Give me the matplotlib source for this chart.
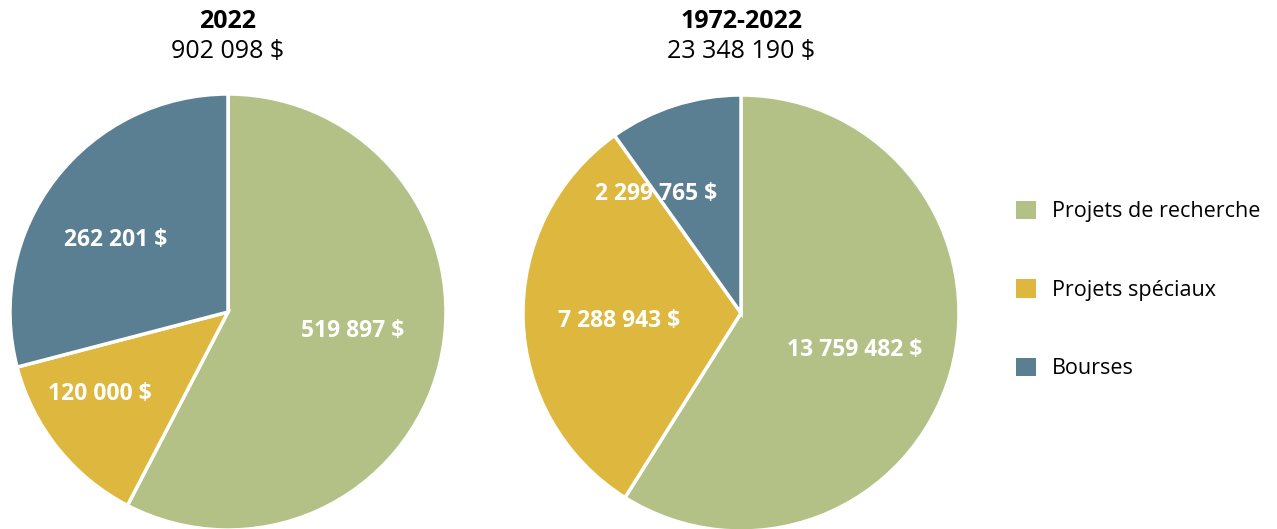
import numpy as np
import matplotlib.pyplot as plt
from matplotlib.patches import Patch

# === DATA ===
CATEGORIES = ["Projets de recherche", "Projets spéciaux", "Bourses"]
COLORS = ["#B3C187", "#DEB73E", "#5A7E92"]

TITLE_1 = "2022"
TOTAL_1 = "902 098 $"
VALUES_1 = [519897, 120000, 262201]

TITLE_2 = "1972-2022"
TOTAL_2 = "23 348 190 $"
VALUES_2 = [13759482, 7288943, 2299765]

FONT = "Open Sans"


def fmt(v):
    return f"{v:,}".replace(",", " ") + " $"


def draw_pie(ax, values, radii, nudges):
    wedges, _ = ax.pie(values, colors=COLORS, startangle=90, counterclock=False,
                       wedgeprops=dict(edgecolor="white", linewidth=2.5))
    for w, v, r, d in zip(wedges, values, radii, nudges):
        ang = np.deg2rad((w.theta1 + w.theta2) / 2 + d)
        ax.text(r * np.cos(ang), r * np.sin(ang), fmt(v), ha="center", va="center",
                color="white", fontsize=16.5, fontweight="bold", family=FONT)
    ax.set_xlim(-1, 1)
    ax.set_ylim(-1, 1)
    ax.set_aspect("auto")


fig = plt.figure(figsize=(12.77, 5.29), dpi=100)

ax1 = fig.add_axes([10 / 1277, -1 / 529, 436 / 1277, 436 / 529])
draw_pie(ax1, VALUES_1, [0.58, 0.70, 0.61], [5, -6, 5])

ax2 = fig.add_axes([523 / 1277, -2 / 529, 436 / 1277, 436 / 529])
draw_pie(ax2, VALUES_2, [0.55, 0.56, 0.67], [-2, 2, 18])

for x, t, s in [(228, TITLE_1, TOTAL_1), (741, TITLE_2, TOTAL_2)]:
    fig.text(x / 1277, 1 - 21 / 529, t, ha="center", va="center",
             fontsize=18, fontweight="bold", family=FONT)
    fig.text(x / 1277, 1 - 51 / 529, s, ha="center", va="center",
             fontsize=18, family=FONT)

handles = [Patch(facecolor=c, edgecolor="none") for c in COLORS]
fig.legend(handles, CATEGORIES, loc="center left", bbox_to_anchor=(997 / 1277, 1 - 290 / 529),
           frameon=False, handlelength=0.93, handleheight=0.93, handletextpad=0.74,
           labelspacing=2.65, prop=dict(family=FONT, size=15.5))

fig.savefig("out.png", dpi=100)
